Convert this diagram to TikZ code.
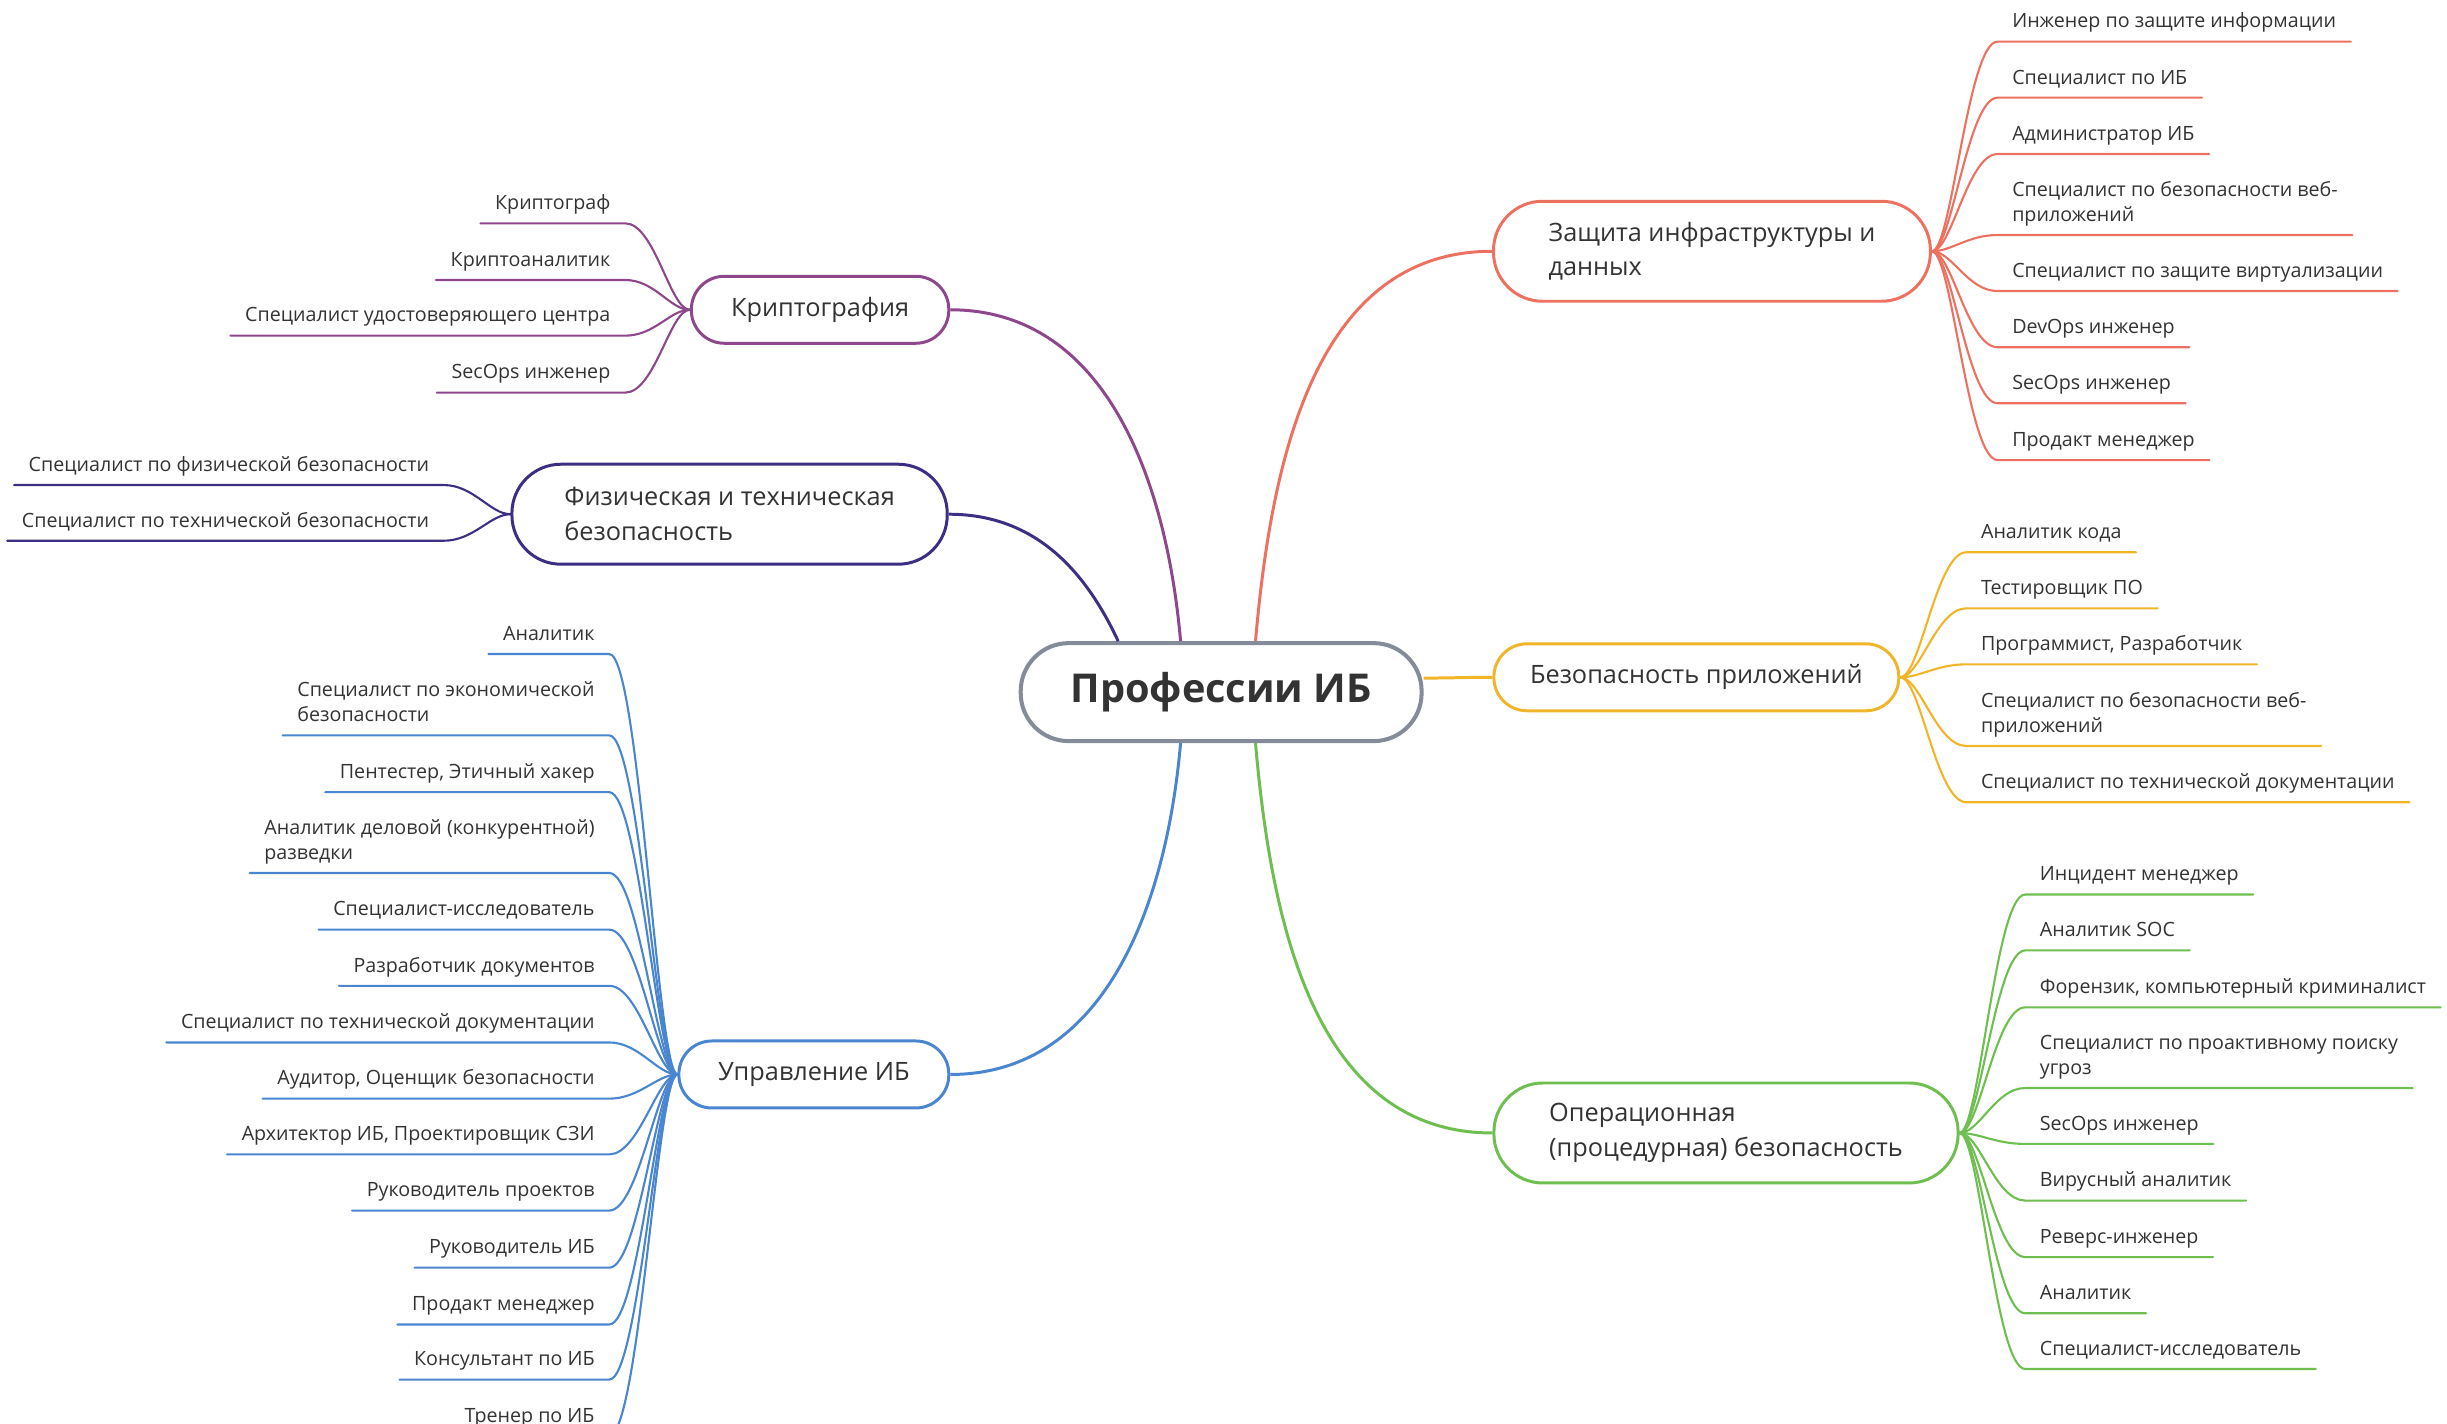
\documentclass[tikz,border=0pt]{standalone}
\usepackage{fontspec}
\setmainfont{Open Sans}
\usetikzlibrary{calc,
                positioning}
\definecolor{ibgray}{RGB}{133,140,153}
\definecolor{ibtext}{RGB}{51,51,51}
\definecolor{ibpurple}{RGB}{142,71,140}
\definecolor{ibindigo}{RGB}{60,46,130}
\definecolor{ibblue}{RGB}{74,134,207}
\definecolor{ibred}{RGB}{236,113,96}
\definecolor{ibyellow}{RGB}{240,181,40}
\definecolor{ibgreen}{RGB}{110,190,80}
\newcommand\leaffont{\fontsize{5.6}{7.1}\selectfont}
\newcommand\topicfont{\fontsize{7.2}{9.9}\selectfont}
\newcommand\rootfont{\fontsize{11.3}{13}\selectfont\bfseries}
\tikzset{root/.style={draw=ibgray, line width=1.15pt, fill=white, text=ibtext, font=\rootfont,
    rounded corners=0.48cm, minimum width=4.01cm, minimum height=0.98cm, inner sep=0pt},
    topic/.style={draw, line width=0.85pt, fill=white, text=ibtext, font=\topicfont,
    rounded corners=0.33cm, minimum height=0.67cm, inner sep=0pt},
    topic2/.style={topic, align=left, rounded corners=0.49cm, minimum height=1.0cm},
    leaf/.style={font=\leaffont, text=ibtext, align=left, inner xsep=0.14cm, inner ysep=0.055cm,
    execute at end node=\strut},
    branch/.style={line width=0.85pt},
    twig/.style={line width=0.6pt, line cap=round},
    twigR/.style={out=0, in=180, out distance=0.2cm, in distance=0.3cm},
    twigL/.style={out=180, in=0, out distance=0.2cm, in distance=0.3cm}}

\begin{document}
\begin{tikzpicture}[x=0.015606cm, y=-0.015606cm]
        \useasboundingbox (0,0) rectangle (1568,912);
        \clip (0,0) rectangle (1568,912);
        \node[root] (prof) at (782.5,443.5) {Профессии ИБ};
        % topics
        \node[topic, draw=ibpurple, minimum width=2.575cm] (krypto) at (525.5,198.5) {Криптография};
        \node[topic2, draw=ibindigo, minimum width=4.354cm] (fizteh) at (467.5,329.5) {Физическая и техническая\\безопасность};
        \node[topic, draw=ibblue, minimum width=2.70cm] (uprav) at (521.5,688.5) {Управление ИБ};
        \node[topic2, draw=ibred, minimum width=4.37cm] (zaschita) at (1097,161) {Защита инфраструктуры и\\данных};
        \node[topic, draw=ibyellow, minimum width=4.05cm] (bezapp) at (1087,434) {Безопасность приложений};
        \node[topic2, draw=ibgreen, minimum width=4.643cm] (operac) at (1106,726) {Операционная\\(процедурная) безопасность};
        \draw[branch, ibpurple] ($(prof.north)+(-26,0)$) to[out=95,in=0] (krypto.east);
        \draw[branch, ibindigo] ($(prof.north)+(-66,0)$) to[out=115,in=0] (fizteh.east);
        \draw[branch, ibred] ($(prof.north)+(22,0)$) to[out=85,in=180] (zaschita.west);
        \draw[branch, ibyellow] ($(prof.east)+(0,-9)$) to[out=0,in=180] (bezapp.west);
        \draw[branch, ibgreen] ($(prof.south)+(22,0)$) to[out=-85,in=180] (operac.west);
        \draw[branch, ibblue] ($(prof.south)+(-26,0)$) to[out=-95,in=0] (uprav.east);
        % cryptography
        \node[leaf, anchor=south east] (kr1) at (400.5,143.1) {Криптограф};
        \node[leaf, anchor=south east] (kr2) at (400.5,179.4) {Криптоаналитик};
        \node[leaf, anchor=south east] (kr3) at (400.5,215.1) {Специалист удостоверяющего центра};
        \node[leaf, anchor=south east] (kr4) at (400.5,251.6) {SecOps инженер};
        \draw[twig, ibpurple] (krypto.west) to[twigL] (kr1.south east) -- (kr1.south west);
        \draw[twig, ibpurple] (krypto.west) to[twigL] (kr2.south east) -- (kr2.south west);
        \draw[twig, ibpurple] (krypto.west) to[twigL] (kr3.south east) -- (kr3.south west);
        \draw[twig, ibpurple] (krypto.west) to[twigL] (kr4.south east) -- (kr4.south west);
        % physical
        \node[leaf, anchor=south east] (fz1) at (284.3,310.8) {Специалист по физической безопасности};
        \node[leaf, anchor=south east] (fz2) at (284.3,346.5) {Специалист по технической безопасности};
        \draw[twig, ibindigo] (fizteh.west) to[twigL] (fz1.south east) -- (fz1.south west);
        \draw[twig, ibindigo] (fizteh.west) to[twigL] (fz2.south east) -- (fz2.south west);
        % management
        \node[leaf, anchor=south east] (up1) at (390.4,419.1) {Аналитик};
        \node[leaf, anchor=south east] (up2) at (390.4,471.2) {Специалист по экономической\\безопасности};
        \node[leaf, anchor=south east] (up3) at (390.4,507.6) {Пентестер, Этичный хакер};
        \node[leaf, anchor=south east] (up4) at (390.4,559.4) {Аналитик деловой (конкурентной)\\разведки};
        \node[leaf, anchor=south east] (up5) at (390.4,595.7) {Специалист-исследователь};
        \node[leaf, anchor=south east] (up6) at (390.4,631.7) {Разработчик документов};
        \node[leaf, anchor=south east] (up7) at (390.4,668) {Специалист по технической документации};
        \node[leaf, anchor=south east] (up8) at (390.4,704) {Аудитор, Оценщик безопасности};
        \node[leaf, anchor=south east] (up9) at (390.4,739.7) {Архитектор ИБ, Проектировщик СЗИ};
        \node[leaf, anchor=south east] (up10) at (390.4,775.7) {Руководитель проектов};
        \node[leaf, anchor=south east] (up11) at (390.4,812.3) {Руководитель ИБ};
        \node[leaf, anchor=south east] (up12) at (390.4,848.7) {Продакт менеджер};
        \node[leaf, anchor=south east] (up13) at (390.4,884) {Консультант по ИБ};
        \node[leaf, anchor=south east] (up14) at (390.4,920) {Тренер по ИБ};
        \draw[twig, ibblue] (uprav.west) to[twigL] (up1.south east) -- (up1.south west);
        \draw[twig, ibblue] (uprav.west) to[twigL] (up2.south east) -- (up2.south west);
        \draw[twig, ibblue] (uprav.west) to[twigL] (up3.south east) -- (up3.south west);
        \draw[twig, ibblue] (uprav.west) to[twigL] (up4.south east) -- (up4.south west);
        \draw[twig, ibblue] (uprav.west) to[twigL] (up5.south east) -- (up5.south west);
        \draw[twig, ibblue] (uprav.west) to[twigL] (up6.south east) -- (up6.south west);
        \draw[twig, ibblue] (uprav.west) to[twigL] (up7.south east) -- (up7.south west);
        \draw[twig, ibblue] (uprav.west) to[twigL] (up8.south east) -- (up8.south west);
        \draw[twig, ibblue] (uprav.west) to[twigL] (up9.south east) -- (up9.south west);
        \draw[twig, ibblue] (uprav.west) to[twigL] (up10.south east) -- (up10.south west);
        \draw[twig, ibblue] (uprav.west) to[twigL] (up11.south east) -- (up11.south west);
        \draw[twig, ibblue] (uprav.west) to[twigL] (up12.south east) -- (up12.south west);
        \draw[twig, ibblue] (uprav.west) to[twigL] (up13.south east) -- (up13.south west);
        \draw[twig, ibblue] (uprav.west) to[twigL] (up14.south east) -- (up14.south west);
        % infrastructure
        \node[leaf, anchor=south west] (zi1) at (1280,26.7) {Инженер по защите информации};
        \node[leaf, anchor=south west] (zi2) at (1280,62.6) {Специалист по ИБ};
        \node[leaf, anchor=south west] (zi3) at (1280,98.7) {Администратор ИБ};
        \node[leaf, anchor=south west] (zi4) at (1280,150.6) {Специалист по безопасности веб-\\приложений};
        \node[leaf, anchor=south west] (zi5) at (1280,186.5) {Специалист по защите виртуализации};
        \node[leaf, anchor=south west] (zi6) at (1280,222.5) {DevOps инженер};
        \node[leaf, anchor=south west] (zi7) at (1280,258.4) {SecOps инженер};
        \node[leaf, anchor=south west] (zi8) at (1280,294.8) {Продакт менеджер};
        \draw[twig, ibred] (zaschita.east) to[twigR] (zi1.south west) -- (zi1.south east);
        \draw[twig, ibred] (zaschita.east) to[twigR] (zi2.south west) -- (zi2.south east);
        \draw[twig, ibred] (zaschita.east) to[twigR] (zi3.south west) -- (zi3.south east);
        \draw[twig, ibred] (zaschita.east) to[twigR] (zi4.south west) -- (zi4.south east);
        \draw[twig, ibred] (zaschita.east) to[twigR] (zi5.south west) -- (zi5.south east);
        \draw[twig, ibred] (zaschita.east) to[twigR] (zi6.south west) -- (zi6.south east);
        \draw[twig, ibred] (zaschita.east) to[twigR] (zi7.south west) -- (zi7.south east);
        \draw[twig, ibred] (zaschita.east) to[twigR] (zi8.south west) -- (zi8.south east);
        % applications
        \node[leaf, anchor=south west] (ba1) at (1260,353.9) {Аналитик кода};
        \node[leaf, anchor=south west] (ba2) at (1260,389.8) {Тестировщик ПО};
        \node[leaf, anchor=south west] (ba3) at (1260,425.7) {Программист, Разработчик};
        \node[leaf, anchor=south west] (ba4) at (1260,478) {Специалист по безопасности веб-\\приложений};
        \node[leaf, anchor=south west] (ba5) at (1260,514.1) {Специалист по технической документации};
        \draw[twig, ibyellow] (bezapp.east) to[twigR] (ba1.south west) -- (ba1.south east);
        \draw[twig, ibyellow] (bezapp.east) to[twigR] (ba2.south west) -- (ba2.south east);
        \draw[twig, ibyellow] (bezapp.east) to[twigR] (ba3.south west) -- (ba3.south east);
        \draw[twig, ibyellow] (bezapp.east) to[twigR] (ba4.south west) -- (ba4.south east);
        \draw[twig, ibyellow] (bezapp.east) to[twigR] (ba5.south west) -- (ba5.south east);
        % operational
        \node[leaf, anchor=south west] (op1) at (1297.7,573.2) {Инцидент менеджер};
        \node[leaf, anchor=south west] (op2) at (1297.7,609) {Аналитик SOC};
        \node[leaf, anchor=south west] (op3) at (1297.7,645.5) {Форензик, компьютерный криминалист};
        \node[leaf, anchor=south west] (op4) at (1297.7,697.2) {Специалист по проактивному поиску\\угроз};
        \node[leaf, anchor=south west] (op5) at (1297.7,733) {SecOps инженер};
        \node[leaf, anchor=south west] (op6) at (1297.7,769.3) {Вирусный аналитик};
        \node[leaf, anchor=south west] (op7) at (1297.7,805.5) {Реверс-инженер};
        \node[leaf, anchor=south west] (op8) at (1297.7,841.5) {Аналитик};
        \node[leaf, anchor=south west] (op9) at (1297.7,877.2) {Специалист-исследователь};
        \draw[twig, ibgreen] (operac.east) to[twigR] (op1.south west) -- (op1.south east);
        \draw[twig, ibgreen] (operac.east) to[twigR] (op2.south west) -- (op2.south east);
        \draw[twig, ibgreen] (operac.east) to[twigR] (op3.south west) -- (op3.south east);
        \draw[twig, ibgreen] (operac.east) to[twigR] (op4.south west) -- (op4.south east);
        \draw[twig, ibgreen] (operac.east) to[twigR] (op5.south west) -- (op5.south east);
        \draw[twig, ibgreen] (operac.east) to[twigR] (op6.south west) -- (op6.south east);
        \draw[twig, ibgreen] (operac.east) to[twigR] (op7.south west) -- (op7.south east);
        \draw[twig, ibgreen] (operac.east) to[twigR] (op8.south west) -- (op8.south east);
        \draw[twig, ibgreen] (operac.east) to[twigR] (op9.south west) -- (op9.south east);
    \end{tikzpicture}
\end{document}
